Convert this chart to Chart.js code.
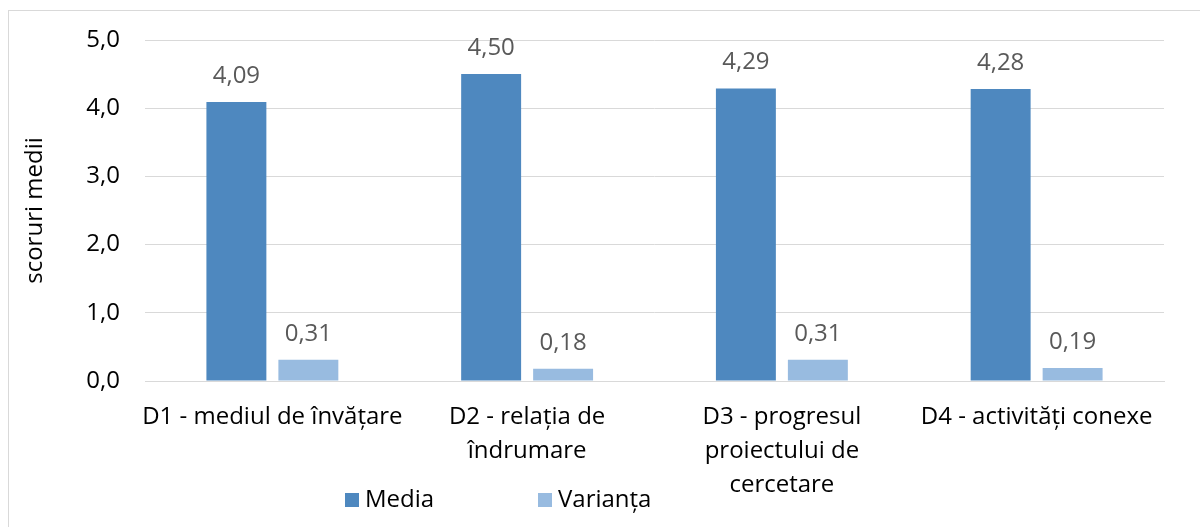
<!DOCTYPE html>
<html>
<head>
<meta charset="utf-8">
<script src="https://cdn.jsdelivr.net/npm/chart.js@4.4.1/dist/chart.umd.min.js"></script>
<style>
  html, body { margin: 0; padding: 0; background: #fff; }
  #wrap { width: 1200px; height: 527px; }
</style>
</head>
<body>
<div id="wrap"><canvas id="chart" width="1200" height="527"></canvas></div>
<script>
// Scores per dimension
const categories = [
  'D1 - mediul de învățare',
  ['D2 - relația de', 'îndrumare'],
  ['D3 - progresul', 'proiectului de', 'cercetare'],
  'D4 - activități conexe'
];
const media = [4.09, 4.50, 4.29, 4.28];
const varianta = [0.31, 0.18, 0.31, 0.19];
const seriesNames = ['Media', 'Varianța'];
const yTicks = [0, 1, 2, 3, 4, 5];

const FONT = 'Open Sans';
const FS = 24;
const colors = ['#4e88bf', '#98bbe0'];

const fmt = (v, d) => v.toFixed(d).replace('.', ',');

// frame + white background
const framePlugin = {
  id: 'frame',
  beforeDraw(chart) {
    const c = chart.ctx;
    c.save();
    c.fillStyle = '#fff';
    c.fillRect(0, 0, chart.width, chart.height);
    c.strokeStyle = '#d9d9d9';
    c.lineWidth = 1;
    c.strokeRect(8.5, 10.5, 1200, 600);
    c.restore();
  }
};

// value labels above bars
const valueLabels = {
  id: 'valueLabels',
  afterDatasetsDraw(chart) {
    const c = chart.ctx;
    c.save();
    c.font = FS + 'px "' + FONT + '"';
    c.fillStyle = '#595959';
    c.textAlign = 'center';
    c.textBaseline = 'alphabetic';
    chart.data.datasets.forEach((ds, i) => {
      chart.getDatasetMeta(i).data.forEach((bar, j) => {
        c.fillText(fmt(ds.data[j], 2), bar.x, bar.y - 19);
      });
    });
    c.restore();
  }
};

// legend drawn by hand so it can sit where Excel put it
const legendPlugin = {
  id: 'customLegend',
  afterDraw(chart) {
    const c = chart.ctx;
    const xs = [345, 538];
    const y = 500;
    c.save();
    c.font = FS + 'px "' + FONT + '"';
    c.textBaseline = 'middle';
    chart.data.datasets.forEach((ds, i) => {
      c.fillStyle = ds.backgroundColor;
      c.fillRect(xs[i], y - 7, 14, 14);
      c.fillStyle = '#000';
      c.fillText(ds.label, xs[i] + 20, y);
    });
    c.restore();
  }
};

new Chart(document.getElementById('chart'), {
  type: 'bar',
  data: {
    labels: categories,
    datasets: [
      { label: seriesNames[0], data: media, backgroundColor: colors[0] },
      { label: seriesNames[1], data: varianta, backgroundColor: colors[1] }
    ]
  },
  options: {
    responsive: false,
    animation: false,
    devicePixelRatio: 1,
    layout: { padding: { top: 40, right: 36, left: 0, bottom: 0 } },
    datasets: { bar: { categoryPercentage: 0.565, barPercentage: 0.833 } },
    plugins: {
      legend: { display: false },
      tooltip: { enabled: false }
    },
    scales: {
      x: {
        afterFit(s) { s.height = 146; },
        grid: { display: false, drawTicks: false },
        border: { color: '#d9d9d9', width: 1 },
        ticks: {
          padding: 19,
          color: '#000',
          maxRotation: 0,
          autoSkip: false,
          font: { family: FONT, size: FS, lineHeight: 1.42 }
        }
      },
      y: {
        min: 0,
        max: 5,
        afterFit(s) { s.width = 145; },
        afterBuildTicks(s) { s.ticks = yTicks.map(v => ({ value: v })); },
        grid: { color: '#d9d9d9', drawTicks: false },
        border: { display: false },
        ticks: {
          padding: 25,
          color: '#000',
          font: { family: FONT, size: FS },
          callback: v => fmt(v, 1)
        },
        title: {
          display: true,
          text: 'scoruri medii',
          color: '#000',
          font: { family: FONT, size: FS },
          padding: { top: 21, bottom: 0 }
        }
      }
    }
  },
  plugins: [framePlugin, valueLabels, legendPlugin]
});
</script>
</body>
</html>
